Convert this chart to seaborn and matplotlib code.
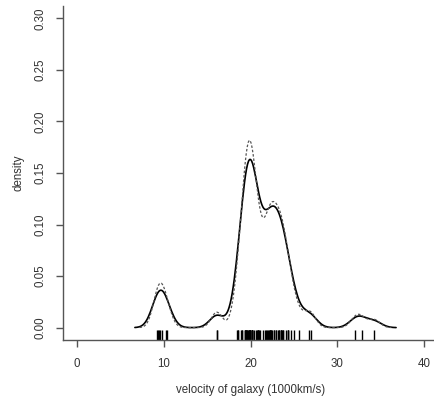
import numpy as np
import pandas as pd
import matplotlib
matplotlib.use("Agg")
import matplotlib.pyplot as plt
import seaborn as sns

# galaxy velocities (1000 km/s)
velocity = np.array([
    9.172, 9.350, 9.483, 9.558, 9.775, 10.227, 10.406, 16.084, 16.170, 18.419,
    18.552, 18.600, 18.927, 19.052, 19.070, 19.330, 19.343, 19.349, 19.440, 19.473,
    19.529, 19.541, 19.547, 19.663, 19.846, 19.856, 19.863, 19.914, 19.918, 19.973,
    19.989, 20.166, 20.175, 20.179, 20.196, 20.215, 20.221, 20.415, 20.629, 20.795,
    20.821, 20.846, 20.875, 20.986, 21.137, 21.492, 21.701, 21.814, 21.921, 21.960,
    22.185, 22.209, 22.242, 22.249, 22.314, 22.374, 22.495, 22.746, 22.747, 22.888,
    22.914, 23.206, 23.241, 23.263, 23.484, 23.538, 23.542, 23.666, 23.706, 23.711,
    24.129, 24.285, 24.289, 24.366, 24.717, 24.990, 25.633, 26.690, 26.995, 32.065,
    32.789, 34.279])

# kernel bandwidths (std of gaussian kernel) for the two curves
bw_solid = 0.83
bw_dashed = 0.65

x_ticks = [0, 10, 20, 30, 40]
y_ticks = [0.00, 0.05, 0.10, 0.15, 0.20, 0.25, 0.30]

sns.set_style("white")
plt.rcParams['font.family'] = ['Liberation Sans', 'DejaVu Sans']

fig = plt.figure(figsize=(4.34, 4.01), dpi=100)
ax = fig.add_axes([63 / 434, 61 / 401, 375 / 434, 334 / 401])

sd = np.std(velocity, ddof=1)
df = pd.DataFrame({"velocity": velocity})
sns.kdeplot(data=df, x="velocity", bw_method=bw_solid / sd, cut=3, gridsize=256,
            color="black", lw=1.2, ax=ax)
sns.kdeplot(data=df, x="velocity", bw_method=bw_dashed / sd, cut=3, gridsize=256,
            color="#555555", lw=0.9, linestyle=(0, (2, 1.5)), ax=ax)
sns.rugplot(data=df, x="velocity", height=0.03, color="black", lw=0.9,
            expand_margins=False, ax=ax)

ax.set_xlim(-1.6, 41.6)
ax.set_ylim(-0.012, 0.312)
ax.set_xticks(x_ticks)
ax.set_xticklabels([str(t) for t in x_ticks])
ax.set_yticks(y_ticks)
ax.set_yticklabels([f"{t:.2f}" for t in y_ticks], rotation=90, va="center")

for side in ["top", "right"]:
    ax.spines[side].set_visible(False)
for side in ["left", "bottom"]:
    ax.spines[side].set_color("#555555")
    ax.spines[side].set_linewidth(1.0)

ax.tick_params(axis="both", direction="out", length=5, width=1, color="#555555",
               labelsize=8.3, labelcolor="#333333", pad=8)
ax.tick_params(axis="x", bottom=True)
ax.tick_params(axis="y", left=True, pad=7)

ax.set_xlabel("velocity of galaxy (1000km/s)", fontsize=8.3, color="#333333", labelpad=10)
ax.set_ylabel("density", fontsize=8.3, color="#333333", labelpad=7)

fig.savefig("out.png", dpi=100)
